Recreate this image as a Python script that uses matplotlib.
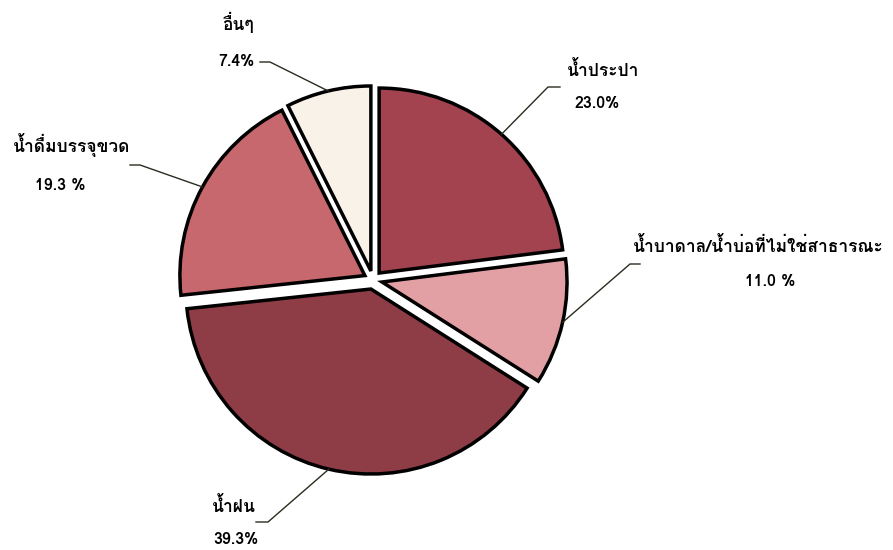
import numpy as np
import matplotlib
matplotlib.use('Agg')
from matplotlib import pyplot as plt
from matplotlib import font_manager as fm
from matplotlib.ft2font import FT2Font

# slices in clockwise order from 12 o'clock
labels = ['น้ำประปา', 'น้ำบาดาล/น้ำบ่อที่ไม่ใช่สาธารณะ', 'น้ำฝน', 'น้ำดื่มบรรจุขวด', 'อื่นๆ']
values = [23.0, 11.0, 39.3, 19.3, 7.4]
pct_labels = ['23.0%', '11.0 %', '39.3%', '19.3 %', '7.4%']
colors = ['#a2434f', '#e3a0a4', '#8e3c46', '#c7676e', '#f8f2e8']

# find installed families that actually carry Thai glyphs
thai_fams = []
for f in fm.fontManager.ttflist:
    try:
        cmap = FT2Font(f.fname).get_charmap()
    except Exception:
        continue
    if 0x0E19 in cmap and 0x0E4D in cmap and f.name not in thai_fams:
        thai_fams.append(f.name)

plt.rcParams['font.family'] = thai_fams + ['DejaVu Sans']

W, H = 893, 550
cx, cy, r = 373, 280, 185  # pie centre and radius, pixels

fig = plt.figure(figsize=(W / 100, H / 100), dpi=100)
ax = fig.add_axes([0, 0, 1, 1])

wedges, _ = ax.pie(values, colors=colors, explode=[0.05] * 5, startangle=90,
                   counterclock=False,
                   wedgeprops=dict(edgecolor='black', linewidth=2.5))
ax.set_xlim(-cx / r, (W - cx) / r)
ax.set_ylim(-(H - cy) / r, cy / r)
ax.set_aspect('equal')
ax.axis('off')


def px(x, y):
    # pixel (from top-left) -> data coords
    return (x - cx) / r, (cy - y) / r


# text positions and leader-line ticks, pixels
name_pos = [(603, 70), (758, 245), (234, 505), (72, 145), (238, 22)]
pct_pos = [(597, 103), (770, 282), (236, 540), (60, 185), (236, 62)]
ticks = [((560, 87), (548, 87)), ((640, 264), (630, 264)), ((256, 522), (268, 522)),
         ((130, 165), (140, 165)), ((260, 62), (270, 62))]

for w, name, pct, npos, ppos, tk in zip(wedges, labels, pct_labels, name_pos, pct_pos, ticks):
    ang = np.deg2rad((w.theta1 + w.theta2) / 2)
    rim = (w.center[0] + w.r * np.cos(ang), w.center[1] + w.r * np.sin(ang))
    a = px(*tk[0])
    b = px(*tk[1])
    ax.plot([a[0], b[0], rim[0]], [a[1], b[1], rim[1]], color='#2b2b1f', lw=1)
    ax.text(*px(*npos), name, ha='center', va='center', fontsize=12.5, fontweight='bold')
    ax.text(*px(*ppos), pct, ha='center', va='center', fontsize=11.5, fontweight='bold')

fig.savefig('out.png', dpi=100, facecolor='white')
